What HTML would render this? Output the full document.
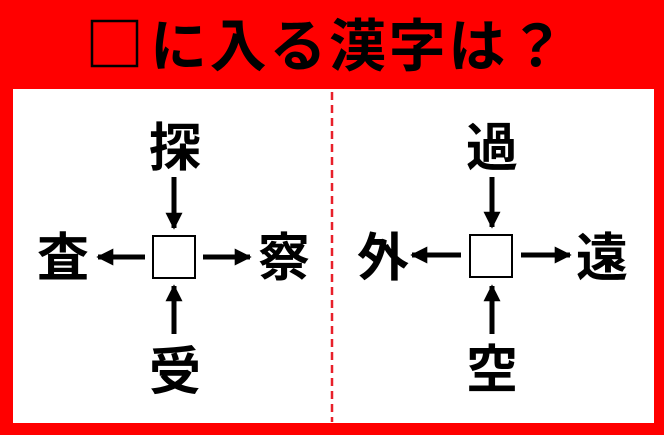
<!DOCTYPE html>
<html><head><meta charset="utf-8"><style>
html,body{margin:0;padding:0;background:#fff}
svg{display:block}
text{font-family:"Liberation Sans","Noto Sans CJK JP",sans-serif;font-weight:bold;fill:#000}
</style></head><body>
<svg width="664" height="435" viewBox="0 0 664 435" xmlns="http://www.w3.org/2000/svg">
<defs>
<marker id="h" viewBox="0 0 10 10" refX="9" refY="5" markerWidth="3.4" markerHeight="3.4" orient="auto" markerUnits="strokeWidth">
<path d="M0,0 L10,5 L0,10 z" fill="#000"/></marker>
</defs>
<rect x="0" y="0" width="664" height="435" fill="#ff0000"/>
<rect x="13" y="89" width="641" height="334" fill="#fff"/>
<line x1="332" y1="92" x2="332" y2="422" stroke="#e8202a" stroke-width="2.5" stroke-dasharray="8,5"/>
<rect x="92" y="21" width="45" height="45" fill="none" stroke="#000" stroke-width="2.5"/>
<text x="150" y="66" font-size="57" textLength="415" lengthAdjust="spacing">に入る漢字は？</text>

<g font-size="52" text-anchor="middle">
<text x="175" y="166">探</text>
<text x="63" y="276">査</text>
<text x="284" y="276">察</text>
<text x="175" y="390">受</text>
<text x="492" y="166">過</text>
<text x="383" y="276">外</text>
<text x="602" y="276">遠</text>
<text x="492" y="388">空</text>
</g>
<g stroke="#000" stroke-width="5" fill="none">
<rect x="153" y="236" width="42" height="42" stroke-width="2"/>
<rect x="470" y="235" width="42" height="42" stroke-width="2"/>
<line x1="174" y1="177" x2="174" y2="228" marker-end="url(#h)"/>
<line x1="174" y1="334" x2="174" y2="286" marker-end="url(#h)"/>
<line x1="145" y1="257" x2="98" y2="257" marker-end="url(#h)"/>
<line x1="203" y1="257" x2="250" y2="257" marker-end="url(#h)"/>
<line x1="492" y1="177" x2="492" y2="227" marker-end="url(#h)"/>
<line x1="492" y1="334" x2="492" y2="286" marker-end="url(#h)"/>
<line x1="461" y1="255" x2="412" y2="255" marker-end="url(#h)"/>
<line x1="521" y1="255" x2="570" y2="255" marker-end="url(#h)"/>
</g>
</svg>
</body></html>
